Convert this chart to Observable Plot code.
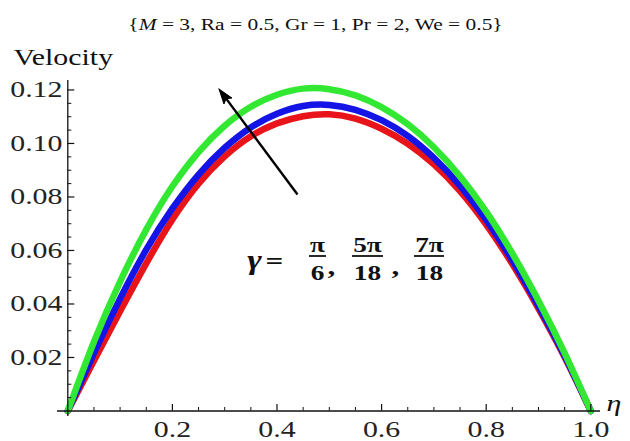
<!DOCTYPE html>
<html><head><meta charset="utf-8">
<script src="https://cdn.jsdelivr.net/npm/d3@7"></script>
<script src="https://cdn.jsdelivr.net/npm/@observablehq/plot@0.6"></script>
<style>body{margin:0;background:#fff}</style>
</head><body><div id="chart"></div>
<script>
// ---- data ----
const eta = [0,0.05,0.1,0.15,0.2,0.25,0.3,0.35,0.4,0.45,0.5,0.55,0.6,0.65,0.7,0.75,0.8,0.85,0.9,0.95,1.0];
const velRed   = [0,0.0188,0.0373,0.0552,0.0716,0.0850,0.0952,0.1027,0.1075,0.1102,0.1109,0.1093,0.1055,0.0999,0.0922,0.0822,0.0697,0.0549,0.0383,0.0201,0];
const velBlue  = [0,0.0216,0.0420,0.0603,0.0757,0.0884,0.0984,0.1060,0.1111,0.1140,0.1144,0.1126,0.1087,0.1028,0.0946,0.0842,0.0714,0.0563,0.0393,0.0206,0];
const velGreen = [0,0.0259,0.0484,0.0678,0.0840,0.0968,0.1066,0.1137,0.1182,0.1205,0.1203,0.1180,0.1136,0.1072,0.0986,0.0877,0.0745,0.0589,0.0412,0.0216,0];
const seriesNames = ["γ = π/6", "γ = 5π/18", "γ = 7π/18"];
const seriesColors = ["#e8141a", "#1414e6", "#33e833"];
const xTicks = [0.2,0.4,0.6,0.8,1.0];
const xTickLabels = ["0.2","0.4","0.6","0.8","1.0"];
const yTicks = [0.02,0.04,0.06,0.08,0.10,0.12];
const yTickLabels = ["0.02","0.04","0.06","0.08","0.10","0.12"];
const titleText = "{M = 3, Ra = 0.5, Gr = 1, Pr = 2, We = 0.5}";
const yLabel = "Velocity";
const xLabel = "η";

// ---- layout ----
const W = 630, H = 441;
const X0 = 67.3, X1 = 590.3, Y0 = 410.5, YT = 80.1, yMax = 0.1235;
const px2x = p => (p - X0) / (X1 - X0);
const px2y = p => (Y0 - p) / (Y0 - YT) * yMax;
const serif = "'Liberation Serif', 'Times New Roman', Times, serif";

const rows = [];
[velRed, velBlue, velGreen].forEach((vals, s) => {
  vals.forEach((v, i) => rows.push({eta: eta[i], v, series: seriesNames[s]}));
});

const xMinor = d3.range(1, 21).map(i => +(i * 0.05).toFixed(3)).filter(v => !xTicks.some(t => Math.abs(t - v) < 1e-6));
const yMinor = d3.range(1, 25).map(i => +(i * 0.005).toFixed(4)).filter(v => !yTicks.some(t => Math.abs(t - v) < 1e-6));

// arrow geometry (pixel space of the annotation)
const tip = [218.5, 88.5], tail = [297, 194], headLen = 15, headHalf = 5;
const dx = tip[0] - tail[0], dy = tip[1] - tail[1], len = Math.hypot(dx, dy);
const ux = dx / len, uy = dy / len, nx = -uy, ny = ux;
const base = [tip[0] - headLen * ux, tip[1] - headLen * uy];
const notch = [tip[0] - (headLen - 3) * ux, tip[1] - (headLen - 3) * uy];
const head = [tip, [base[0] + headHalf * nx, base[1] + headHalf * ny], notch, [base[0] - headHalf * nx, base[1] - headHalf * ny], tip]
  .map(([a, b]) => ({x: px2x(a), y: px2y(b)}));

const c = v => () => v;
const txt = (s, px, py, o = {}) => Plot.text([s], {
  x: c(px2x(px)), y: c(px2y(py)), text: d => d,
  fontFamily: serif, fill: "#111", lineAnchor: "bottom", ...o
});
const bar = (a, b, py) => Plot.ruleY([0], {x1: c(px2x(a)), x2: c(px2x(b)), y: c(px2y(py)), stroke: "#111", strokeWidth: 1.8});
const fr = {fontSize: 21, fontWeight: "bold"};

const chart = Plot.plot({
  width: W, height: H,
  marginLeft: X0, marginRight: W - X1, marginTop: YT, marginBottom: H - Y0,
  x: {domain: [0, 1], axis: null},
  y: {domain: [0, yMax], axis: null},
  color: {domain: seriesNames, range: seriesColors},
  style: {background: "white", overflow: "visible"},
  marks: [
    Plot.line(rows, {x: "eta", y: "v", z: "series", stroke: "series", strokeWidth: 6.5, curve: "natural"}),
    // axes
    Plot.ruleY([0], {x1: c(px2x(57)), x2: c(px2x(600)), stroke: "#111", strokeWidth: 1.3}),
    Plot.ruleX([0], {y1: c(px2y(416)), y2: c(yMax), stroke: "#111", strokeWidth: 1.3}),
    Plot.ruleX(xMinor, {x: d => d, y1: c(0), y2: c(px2y(Y0 - 3.5)), stroke: "#111", strokeWidth: 1}),
    Plot.ruleX(xTicks, {x: d => d, y1: c(0), y2: c(px2y(Y0 - 6.5)), stroke: "#111", strokeWidth: 1.2}),
    Plot.ruleY(yMinor, {y: d => d, x1: c(0), x2: c(px2x(X0 + 4)), stroke: "#111", strokeWidth: 1}),
    Plot.ruleY(yTicks, {y: d => d, x1: c(0), x2: c(px2x(X0 + 7)), stroke: "#111", strokeWidth: 1.2}),
    // tick labels
    Plot.text(xTicks, {x: d => d, y: c(px2y(436)), text: (d, i) => xTickLabels[i], fontFamily: serif, fontSize: 23, fill: "#222", lineAnchor: "bottom"}),
    Plot.text(yTicks, {x: c(px2x(62)), y: d => d, text: (d, i) => yTickLabels[i], fontFamily: serif, fontSize: 23, fill: "#222", textAnchor: "end", lineAnchor: "middle"}),
    txt(yLabel, 13, 64, {fontSize: 23, textAnchor: "start"}),
    txt(xLabel, 606, 410, {fontSize: 23, textAnchor: "start", fontStyle: "italic"}),
    txt(titleText, 315, 29, {fontSize: 16.5}),
    // arrow
    Plot.link([0], {x1: c(px2x(tail[0])), y1: c(px2y(tail[1])), x2: c(px2x(notch[0])), y2: c(px2y(notch[1])), stroke: "#000", strokeWidth: 2.4}),
    Plot.line(head, {x: "x", y: "y", stroke: "#000", strokeWidth: 1, fill: "#000"}),
    // gamma label
    txt("γ", 254, 268, {fontSize: 27, fontWeight: "bold", fontStyle: "italic"}),
    txt("=", 274, 268, {fontSize: 24, fontWeight: "bold"}),
    txt("π", 317, 251, fr),
    bar(309, 326, 255.5),
    txt("6", 317, 279, fr),
    txt(",", 331, 273, {fontSize: 24, fontWeight: "bold"}),
    txt("5π", 367, 251, fr),
    bar(352, 383, 255.5),
    txt("18", 367, 279, fr),
    txt(",", 395, 273, {fontSize: 24, fontWeight: "bold"}),
    txt("7π", 429, 251, fr),
    bar(414, 444, 255.5),
    txt("18", 429, 279, fr)
  ]
});

// horizontally stretched text as in the reference
chart.querySelectorAll("text").forEach(t => {
  const tr = t.getAttribute("transform") || "";
  t.setAttribute("transform", tr + " scale(1.3,1)");
  if (t.textContent === titleText) {
    t.textContent = "";
    const parts = [["{", null], ["M", "italic"], [titleText.slice(2), null]];
    parts.forEach(([s, st]) => {
      const ts = document.createElementNS("http://www.w3.org/2000/svg", "tspan");
      ts.textContent = s;
      if (st) ts.setAttribute("font-style", st);
      t.appendChild(ts);
    });
  }
});
document.getElementById("chart").appendChild(chart);
</script>
</body></html>
